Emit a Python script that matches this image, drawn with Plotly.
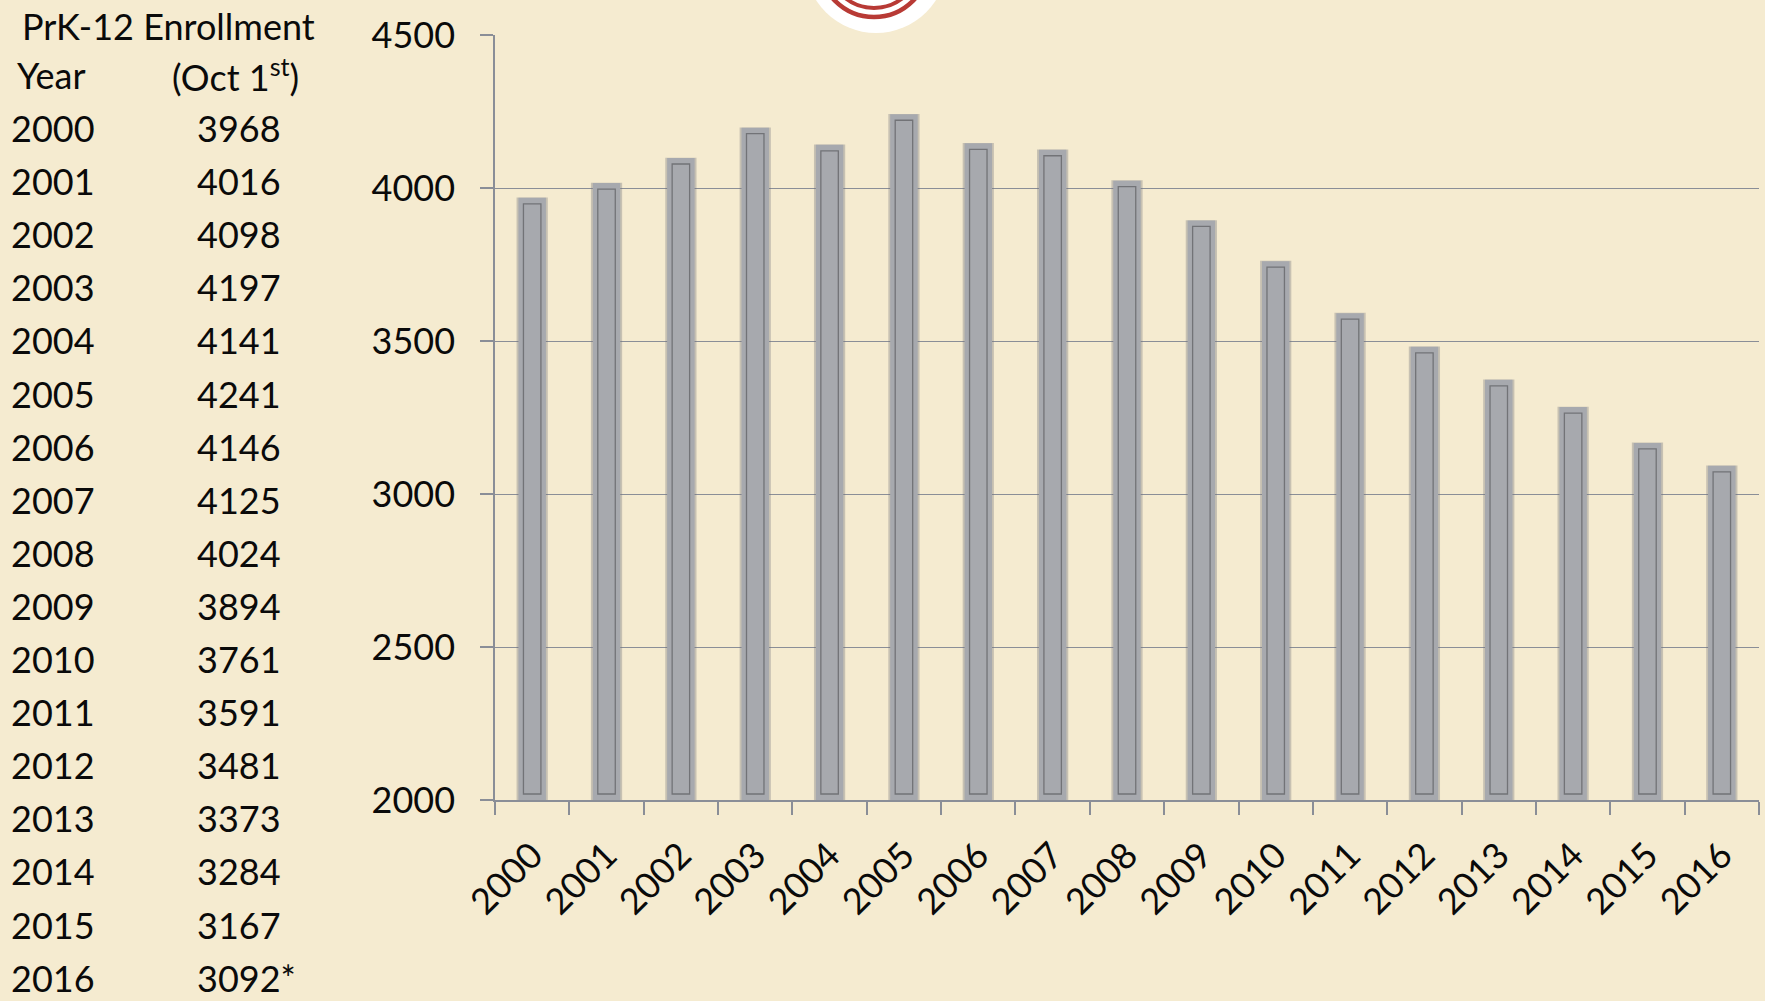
import plotly.graph_objects as go

# ---- data ----
years = ["2000", "2001", "2002", "2003", "2004", "2005", "2006", "2007", "2008",
         "2009", "2010", "2011", "2012", "2013", "2014", "2015", "2016"]
enrollment = [3968, 4016, 4098, 4197, 4141, 4241, 4146, 4125, 4024,
              3894, 3761, 3591, 3481, 3373, 3284, 3167, 3092]
footnote_year = "2016"          # value marked with an asterisk in the table
y_ticks = [2000, 2500, 3000, 3500, 4000, 4500]
table_header = ["PrK-12 Enrollment", "Year", "(Oct 1<sup>st</sup>)"]

# ---- layout geometry (pixels) ----
W, H = 1765, 1001
L, R, T, B = 495, 6, 35, 201
PW, PH = W - L - R, H - T - B
Y0, Y1 = 2000, 4500

def px_x(px):
    return (px - L) / PW

def px_y(py):
    return (H - B - py) / PH

BG = "#f5ebd0"
GRID = "#8a8e97"
BAR = "#a7a9ae"
INNER = "#727377"
FONT = "Lato"
FS = 36
TXT = "#0a0a0a"

inset = 6 * (Y1 - Y0) / PH   # inner outline inset in data units

fig = go.Figure()
# soft shadow
fig.add_trace(go.Bar(x=years, y=[v - Y0 + inset * 0.2 for v in enrollment], base=Y0 - inset * 0.15,
                     width=0.42, marker=dict(color="rgba(115,116,122,0.35)", line=dict(width=0)),
                     hoverinfo="skip"))
# main bars
fig.add_trace(go.Bar(x=years, y=[v - Y0 for v in enrollment], base=Y0, width=0.37,
                     marker=dict(color=BAR, line=dict(width=0)), name="Enrollment"))
# inner outline
fig.add_trace(go.Bar(x=years, y=[v - Y0 - 2 * inset for v in enrollment], base=Y0 + inset,
                     width=0.235,
                     marker=dict(color="rgba(0,0,0,0)", line=dict(color=INNER, width=1.3)),
                     hoverinfo="skip"))

fig.update_layout(
    width=W, height=H,
    margin=dict(l=L, r=R, t=T, b=B, pad=0),
    paper_bgcolor=BG, plot_bgcolor=BG,
    barmode="overlay", showlegend=False,
    font=dict(family=FONT, size=FS, color=TXT),
)
fig.update_xaxes(type="category", tickson="boundaries", ticks="outside", ticklen=13,
                 tickcolor=GRID, tickwidth=1.5, showline=True, linecolor=GRID, linewidth=1.5,
                 showgrid=False, tickangle=-45, ticklabelstandoff=18,
                 tickfont=dict(family=FONT, size=FS, color=TXT),
                 range=[-0.5, len(years) - 0.5])
fig.update_yaxes(range=[Y0, Y1], tickvals=y_ticks, ticks="outside", ticklen=13, tickcolor=GRID,
                 tickwidth=1.5, showline=True, linecolor=GRID, linewidth=1.5, showgrid=True,
                 gridcolor=GRID, gridwidth=1.3, zeroline=False, ticklabelstandoff=18,
                 tickfont=dict(family=FONT, size=FS, color=TXT))

# ---- table on the left ----
ann = []
ann.append(dict(text=table_header[0], x=px_x(20), y=px_y(26)))
ann.append(dict(text=table_header[1], x=px_x(15), y=px_y(75)))
ann.append(dict(text=table_header[2], x=px_x(170), y=px_y(75)))
for i, (yr, v) in enumerate(zip(years, enrollment)):
    yy = 128 + i * 53.1
    ann.append(dict(text=yr, x=px_x(9), y=px_y(yy)))
    ann.append(dict(text=f"{v}" + ("*" if yr == footnote_year else ""), x=px_x(195), y=px_y(yy)))
for a in ann:
    a.update(xref="paper", yref="paper", xanchor="left", yanchor="middle", showarrow=False,
             font=dict(family=FONT, size=FS, color=TXT))
fig.update_layout(annotations=ann)

# ---- partial logo at top ----
def circ(cx, cy, r, **kw):
    return dict(type="circle", xref="paper", yref="paper", layer="above",
                x0=px_x(cx - r), x1=px_x(cx + r), y0=px_y(cy + r), y1=px_y(cy - r), **kw)

shapes = [
    circ(876, -38, 71, fillcolor="#ffffff", line=dict(width=0)),
    circ(874, -38, 55, fillcolor="rgba(0,0,0,0)", line=dict(color="#b83a35", width=4.5)),
    circ(874, -38, 46, fillcolor="rgba(0,0,0,0)", line=dict(color="#b83a35", width=4)),
]
fig.update_layout(shapes=shapes)

fig.write_html("out.html", config={"displayModeBar": False},
               post_script="document.body.style.margin='0px';document.body.style.overflow='hidden';")
